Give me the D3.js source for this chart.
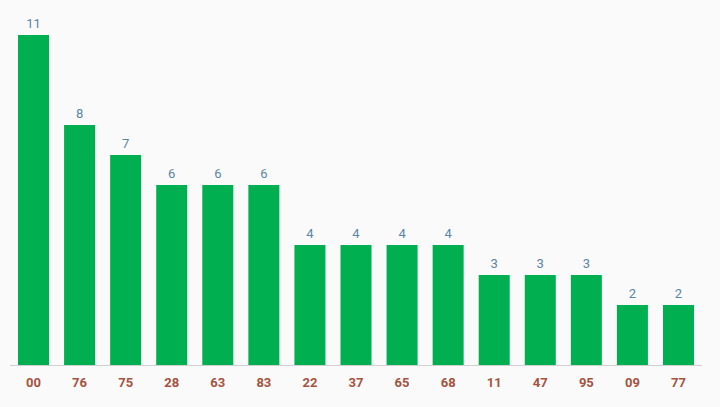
<!DOCTYPE html>
<html><head><meta charset="utf-8">
<script src="https://cdn.jsdelivr.net/npm/d3@7"></script>
<style>body{margin:0;background:#fafafa;}svg{display:block;}</style>
</head><body>
<svg id="c" width="720" height="407"></svg>
<script>
const categories = ["00","76","75","28","63","83","22","37","65","68","11","47","95","09","77"];
const values = [11,8,7,6,6,6,4,4,4,4,3,3,3,2,2];

const svg = d3.select("#c");
svg.append("rect").attr("width",720).attr("height",407).attr("fill","#fafafa");
const x = d3.scaleBand().domain(categories).range([10.5, 701.5]).paddingInner(0.327).paddingOuter(0.163);
const y = d3.scaleLinear().domain([0, 11]).range([365, 35]);

svg.append("g").selectAll("rect").data(values).join("rect")
  .attr("x", (d,i)=>x(categories[i]))
  .attr("y", d=>y(d))
  .attr("width", x.bandwidth())
  .attr("height", d=>y(0)-y(d))
  .attr("fill", "#00b050");

svg.append("line").attr("x1",10).attr("x2",702).attr("y1",365.5).attr("y2",365.5)
  .attr("stroke","#d0d0d0").attr("stroke-width",1);

svg.append("g").selectAll("text").data(values).join("text")
  .attr("x", (d,i)=>x(categories[i]) + x.bandwidth()/2)
  .attr("y", d=>y(d) - 7)
  .attr("text-anchor","middle")
  .attr("font-family","Roboto, sans-serif")
  .attr("font-size","13px")
  .attr("fill","#5a86a3")
  .text(d=>d);

svg.append("g").selectAll("text").data(categories).join("text")
  .attr("x", d=>x(d) + x.bandwidth()/2)
  .attr("y", 387)
  .attr("text-anchor","middle")
  .attr("font-family","Roboto, sans-serif")
  .attr("font-size","13px")
  .attr("font-weight","bold")
  .attr("fill","#a5533f")
  .text(d=>d);
</script>
</body></html>
